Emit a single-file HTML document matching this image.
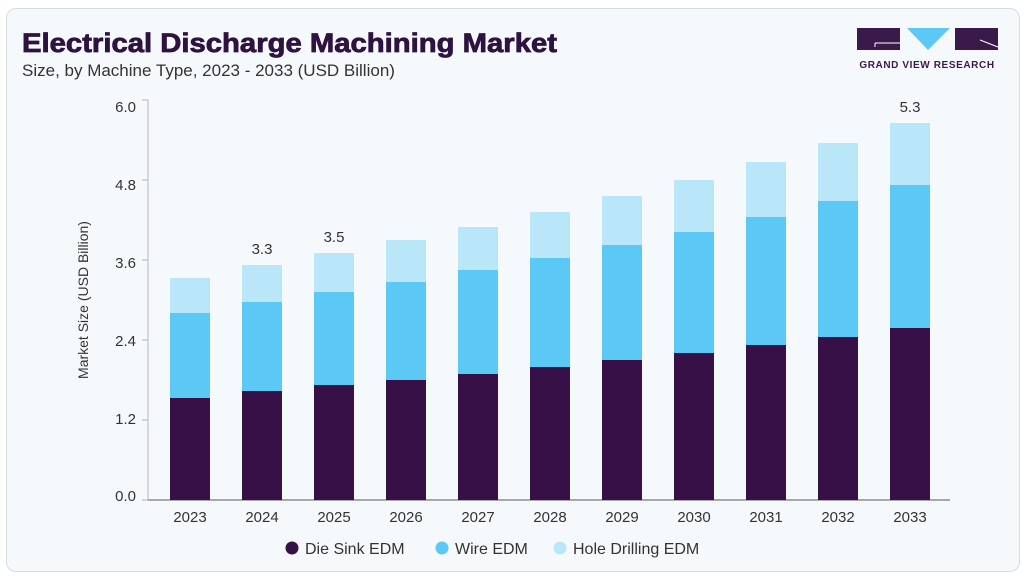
<!DOCTYPE html>
<html><head><style>
body{margin:0;background:#fff;}
.wrap{position:relative;width:1025px;height:576px;background:#ffffff;font-family:"Liberation Sans",sans-serif;overflow:hidden}
.card{position:absolute;left:6px;top:8px;width:1012px;height:562px;background:#f5f9fc;border:1px solid #d6dde3;border-radius:10px}
</style></head><body><div class="wrap"><div class="card"></div>
<svg width="1025" height="576" style="position:absolute;left:0;top:0" font-family="Liberation Sans, sans-serif">
<text x="22" y="52" font-size="27" font-weight="900" fill="#2e1240" textLength="535" lengthAdjust="spacingAndGlyphs" stroke="#2e1240" stroke-width="0.8">Electrical Discharge Machining Market</text>
<text x="22" y="76" font-size="17" fill="#333">Size, by Machine Type, 2023 - 2033 (USD Billion)</text>
<g>
<rect x="857" y="28" width="43" height="22" fill="#3a1a4a"/>
<line x1="875" y1="43" x2="900" y2="43" stroke="#fff" stroke-width="1"/>
<line x1="875" y1="43" x2="875" y2="47" stroke="#fff" stroke-width="1"/>
<polygon points="907,28 950,28 928,50" fill="#5bc8f5"/>
<rect x="955" y="28" width="43" height="22" fill="#3a1a4a"/>
<line x1="980" y1="40" x2="998" y2="47" stroke="#fff" stroke-width="1"/>
<text x="927" y="68" font-size="10" font-weight="bold" fill="#3a1a4a" text-anchor="middle" letter-spacing="0.6">GRAND VIEW RESEARCH</text>
</g>
<g stroke="#b5b5b5">
<line x1="148" y1="100" x2="148" y2="500"/>
<line x1="142" y1="100" x2="148" y2="100"/><line x1="142" y1="180" x2="148" y2="180"/>
<line x1="142" y1="260" x2="148" y2="260"/><line x1="142" y1="340" x2="148" y2="340"/>
<line x1="142" y1="420" x2="148" y2="420"/><line x1="142" y1="500" x2="148" y2="500"/>
</g>
<line x1="148" y1="500" x2="950" y2="500" stroke="#555"/>
<g font-size="15" fill="#333" text-anchor="end">
<text x="136" y="112">6.0</text><text x="136" y="190">4.8</text><text x="136" y="268">3.6</text>
<text x="136" y="346">2.4</text><text x="136" y="424">1.2</text><text x="136" y="501">0.0</text>
</g>
<text transform="translate(88,300) rotate(-90)" font-size="14" fill="#333" text-anchor="middle">Market Size (USD Billion)</text>
<g id="bars"></g>
<g font-size="15" fill="#333" text-anchor="middle">
<text x="262" y="254">3.3</text><text x="334" y="242">3.5</text><text x="910" y="112">5.3</text>
</g>
<g font-size="15" fill="#333" text-anchor="middle" id="yrs"></g>
<g font-size="16" fill="#333">
<circle cx="292" cy="548" r="6.5" fill="#361046"/><text x="305" y="554">Die Sink EDM</text>
<circle cx="442" cy="548" r="6.5" fill="#5bc8f5"/><text x="455" y="554">Wire EDM</text>
<circle cx="560" cy="548" r="6.5" fill="#b9e6f9"/><text x="573" y="554">Hole Drilling EDM</text>
</g>
</svg>
<script>
var d=[[278,313,398],[265,302,391],[253,292,385],[240,282,380],[227,270,374],[212,258,367],[196,245,360],[180,232,353],[162,217,345],[143,201,337],[123,185,328]];
var s='',y='';
d.forEach(function(b,i){var c=190+72*i,x=c-20;
s+='<rect x="'+x+'" y="'+b[0]+'" width="40" height="'+(b[1]-b[0])+'" fill="#b9e6f9"/>';
s+='<rect x="'+x+'" y="'+b[1]+'" width="40" height="'+(b[2]-b[1])+'" fill="#5bc8f5"/>';
s+='<rect x="'+x+'" y="'+b[2]+'" width="40" height="'+(500-b[2])+'" fill="#361046"/>';
y+='<text x="'+c+'" y="522">'+(2023+i)+'</text>';});
document.getElementById('bars').innerHTML=s;document.getElementById('yrs').innerHTML=y;
</script>
</div></body></html>
